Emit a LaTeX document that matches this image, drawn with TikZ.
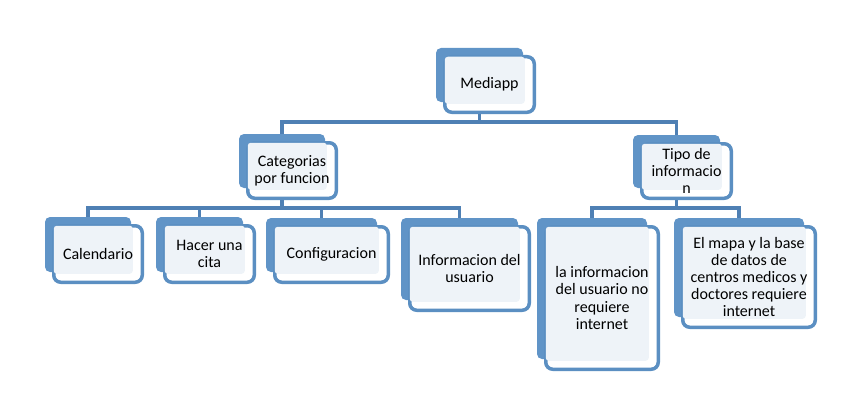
\documentclass[tikz,border=0pt]{standalone}
\usepackage{fontspec}
\setmainfont{Carlito}
\usetikzlibrary{
  positioning,
  calc,
  backgrounds
}
\definecolor{backBlue}{RGB}{96,148,199}
\definecolor{frameBlue}{RGB}{91,143,194}
\definecolor{busBlue}{RGB}{79,128,180}
\definecolor{paleBlue}{RGB}{238,243,248}
\tikzset{
  backbox/.style={
    fill=backBlue,
    rounded corners=5pt,
    inner sep=0pt
  },
  frontbox/.style={
    draw=frameBlue,
    line width=3.5pt,
    fill=white,
    rounded corners=7pt,
    inner sep=0pt
  },
  boxtext/.style={
    align=center,
    inner sep=0pt,
    font=\fontsize{16}{17.2}\selectfont
  },
  bus/.style={
    draw=busBlue,
    line width=3.5pt
  }
}
% #1 name, #2 x, #3 y, #4 width, #5 height, #6 text
\newcommand{\infobox}[6]{
  \node[backbox, minimum width=#4-6, minimum height=#5-5]
    (#1-b) at ({#2-10},{#3-9.5}) {};
  \node[frontbox, minimum width=#4-3.5, minimum height=#5-3.5] (#1) at (#2,#3) {};
  \fill[paleBlue, rounded corners=3pt]
    ([shift={(1.75,1.75)}]#1.north west) rectangle ([shift={(-11.25,-10.25)}]#1.south east);
  \node[boxtext] (#1-t) at (#2,#3) {#6};
}

\begin{document}
\begin{tikzpicture}[x=1pt, y=-1pt]
      \useasboundingbox (0,0) rectangle (848,404);

      \infobox{mediapp}{489.5}{84.5}{93}{59}{Mediapp}
      \infobox{categorias}{292}{170.5}{92}{59}{Categorias\\por funcion}
      \infobox{tipo}{686.5}{171}{93}{58}{Tipo de\\informacio\\n}
      \infobox{calendario}{98}{254}{92}{60}{Calendario}
      \infobox{cita}{209.5}{254}{93}{60}{Hacer una\\cita}
      \infobox{config}{331.5}{254.5}{117}{59}{Configuracion}
      \infobox{usuario}{469.5}{268.5}{123}{87}{Informacion del\\usuario}
      \infobox{local}{602}{298}{116}{146}{la informacion\\del usuario no\\requiere\\internet}
      \infobox{mapa}{749}{277}{136}{104}{El mapa y la base\\de datos de\\centros medicos y\\doctores requiere\\internet}

      \begin{pgfonlayer}{background}
        \foreach \p/\c in {mediapp/categorias, mediapp/tipo,
          categorias/calendario, categorias/cita, categorias/config,
          categorias/usuario, tipo/local, tipo/mapa}{
          \draw[bus] (\p-b.south) -- ++(0,20) -| (\c-b.north);
        }
      \end{pgfonlayer}
    \end{tikzpicture}
\end{document}
